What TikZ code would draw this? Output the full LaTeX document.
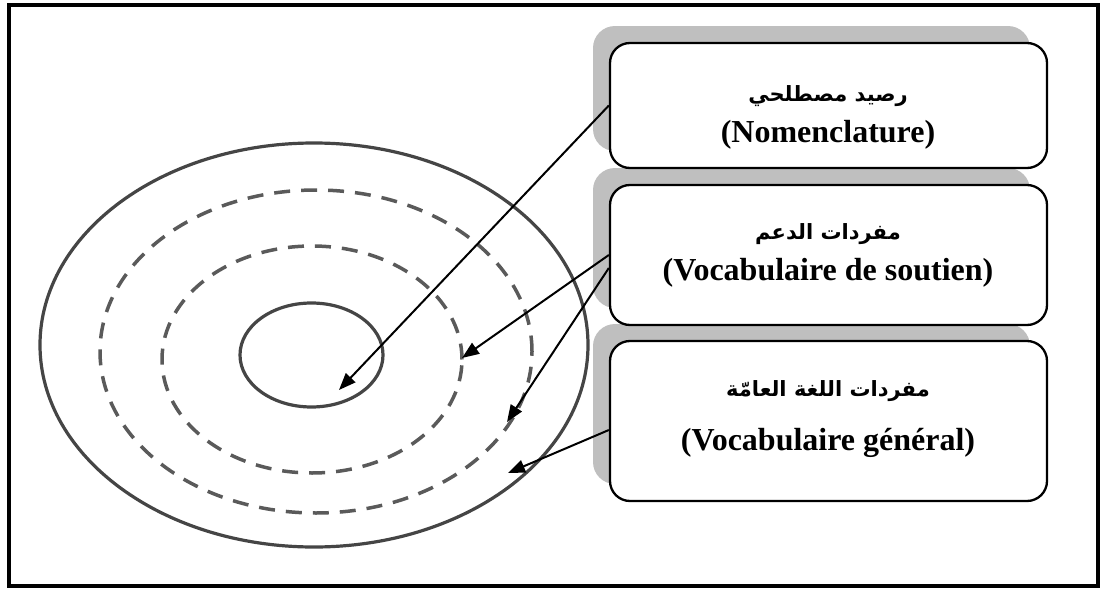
\documentclass[tikz,border=0pt]{standalone}
\usepackage{fontspec}
\setmainfont{Liberation Serif}
\newfontfamily\arabicfont[Script=Arabic]{DejaVu Sans}
\TeXXeTstate=1
\usetikzlibrary{arrows.meta}
\definecolor{ringgray}{HTML}{454545}
\definecolor{dashgray}{HTML}{5A5A5A}
\definecolor{shadowgray}{HTML}{BFBFBF}
\begin{document}
\begin{tikzpicture}[x=1pt,y=-1pt,
  box/.style={draw=black, line width=2.3pt, rounded corners=20pt, fill=white,
    minimum width=437pt, inner sep=0pt},
  shadowbox/.style={fill=shadowgray, rounded corners=22pt},
  ring/.style={draw=ringgray, line width=3.2pt},
  dashring/.style={draw=dashgray, line width=3.5pt, dash pattern=on 16pt off 11pt},
  pointer/.style={draw=black, line width=2pt, -{Triangle[length=17pt,width=13pt]}},
  frtext/.style={font=\bfseries\fontsize{32}{36}\selectfont},
  artext/.style={font=\arabicfont\bfseries\fontsize{21}{25}\selectfont}]

\useasboundingbox (0,0) rectangle (1101,589);
\draw[line width=4pt] (9,5) rectangle (1098,586);

% rings
\draw[ring] (314,345) ellipse [x radius=274pt, y radius=202pt];
\draw[dashring] (316,351.5) ellipse [x radius=216pt, y radius=161.5pt];
\draw[dashring] (312,359.5) ellipse [x radius=150pt, y radius=113.5pt];
\draw[ring] (311.5,355) ellipse [x radius=71.5pt, y radius=52pt];

% shadows
\fill[shadowbox] (593,26) rectangle (1030,151);
\fill[shadowbox] (593,168) rectangle (1030,308);
\fill[shadowbox] (593,324) rectangle (1030,484);

% boxes
\node[box, minimum height=125pt] (box1) at (828.5,105.5) {};
\node[box, minimum height=140pt] (box2) at (828.5,255) {};
\node[box, minimum height=160pt] (box3) at (828.5,421) {};

% texts
\node[artext] (ar1) at (828,96) {\beginR رصيد مصطلحي\endR};
\node[frtext] (fr1) at (828,135) {(Nomenclature)};
\node[artext] (ar2) at (828,234) {\beginR مفردات الدعم\endR};
\node[frtext] (fr2) at (828,273) {(Vocabulaire de soutien)};
\node[artext] (ar3) at (828,391) {\beginR مفردات اللغة العامّة\endR};
\node[frtext] (fr3) at (828,443) {(Vocabulaire général)};

% arrows
\coordinate (tip1) at (339,390);
\coordinate (tip2) at (462,358);
\coordinate (tip3) at (507,422);
\coordinate (tip4) at (508,473);
\draw[pointer] (box1.west) -- (tip1);
\draw[pointer] (box2.west) -- (tip2);
\draw[pointer] ([yshift=-13pt]box2.west) -- (tip3);
\draw[pointer] ([yshift=-9pt]box3.west) -- (tip4);
\end{tikzpicture}
\end{document}
